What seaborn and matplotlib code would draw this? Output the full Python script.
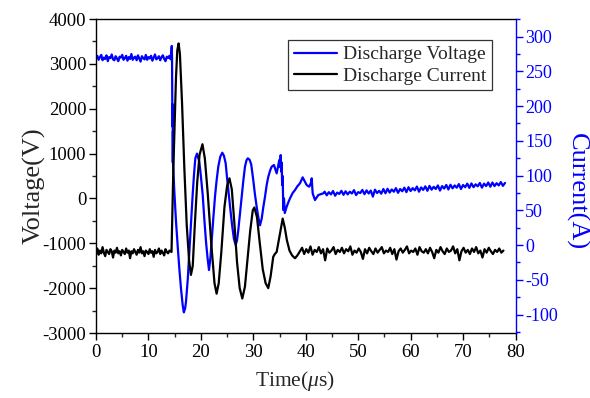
import numpy as np
import pandas as pd
import matplotlib
matplotlib.use("Agg")
import matplotlib.pyplot as plt
from matplotlib.ticker import MultipleLocator
import seaborn as sns

# ---------------- data ----------------
# Voltage (V), left axis: pre-trigger noisy plateau, sampled every 0.25 us from t=0
volt_pre = [3120, 3180, 3090, 3150, 3200, 3080, 3140, 3110, 3190, 3060, 3150, 3130, 3210, 3100,
            3080, 3170, 3120, 3060, 3160, 3140, 3200, 3090, 3130, 3180, 3070, 3150, 3110, 3220,
            3090, 3140, 3160, 3080, 3190, 3120, 3050, 3170, 3130, 3100, 3200, 3090, 3150, 3120,
            3180, 3070, 3140, 3210, 3100, 3130, 3170, 3080, 3150, 3190, 3110, 3060, 3160, 3130,
            3180, 3100]
# Voltage oscillation (time in us, value in V)
volt_osc_t = [14.45, 14.5, 14.55, 14.6, 14.62, 14.65, 14.68, 14.7, 14.94, 15.26, 15.6, 15.89,
              16.2, 16.53, 16.75, 17.0, 17.16, 17.5, 17.8, 18.1, 18.43, 18.7, 18.94, 19.26,
              19.7, 20.0, 20.35, 20.65, 20.98, 21.25, 21.55, 21.8, 22.06, 22.4, 22.69, 23.0,
              23.32, 23.7, 24.09, 24.4, 24.73, 25.0, 25.36, 25.7, 25.99, 26.3, 26.64, 26.9,
              27.14, 27.45, 27.78, 28.1, 28.41, 28.7, 28.95, 29.3, 29.6, 30.0, 30.3, 30.64,
              30.95, 31.27, 31.6, 31.9, 32.23, 32.55, 32.86, 33.2, 33.5, 33.94, 34.2, 34.45,
              34.7, 34.95, 35.1, 35.22, 35.3, 35.41, 35.5, 35.6, 35.72, 35.85, 36.0, 36.36,
              36.7, 36.99, 37.5, 37.95, 38.4, 38.9, 39.41, 39.8, 40.17, 40.67, 41.0, 41.13,
              41.32, 41.76, 42.39, 43.35]
volt_osc_v = [3400, 3150, 2050, 1600, 2100, 800, 1500, 745, 150, -519, -1100, -1559,
              -2000, -2376, -2540, -2450, -2303, -1800, -1188, -550, 76, 550, 894, 1000,
              818, 500, 76, -450, -965, -1300, -1596, -1350, -927, -400, 38, 400,
              707, 930, 1019, 950, 782, 450, 38, -330, -631, -900, -1039, -930,
              -704, -350, 38, 400, 707, 850, 894, 860, 760, 400, 100, -185,
              -420, -600, -450, -200, 38, 300, 484, 620, 707, 745, 650, 559,
              700, 856, 700, 967, 600, 800, 300, 500, -259, 0, -325, -185,
              -80, 0, 120, 187, 270, 337, 470, 380, 299, 261, 350, 448,
              114, -36, 76, 114]
# Voltage tail, sampled every 0.4 us from t=43.6
volt_post = [150, 70, 140, 90, 165, 60, 130, 100, 170, 80,
             160, 90, 150, 110, 185, 75, 140, 120, 190, 95,
             180, 110, 175, 40, 195, 120, 170, 105, 210, 115,
             215, 130, 200, 150, 230, 125, 210, 160, 240, 140,
             250, 165, 230, 180, 265, 150, 245, 190, 270, 170,
             280, 195, 260, 210, 290, 175, 275, 220, 300, 200,
             305, 225, 290, 240, 320, 210, 300, 250, 330, 235,
             335, 250, 315, 270, 345, 240, 330, 275, 355, 260,
             355, 275, 340, 290, 365, 280, 345]

# Current (A), right axis: pre-trigger baseline sampled every 0.25 us from t=0
curr_pre = [-10, -5, -14, -8, -12, -3, -11, -16, -7, -10, -13, -6, -9, -18, -8, -11, -4, -12,
            -9, -15, -7, -10, -13, -5, -11, -8, -19, -9, -12, -6, -10, -14, -7, -11, -3, -12,
            -9, -16, -8, -10, -13, -6, -11, -9, -17, -7, -12, -10, -5, -13, -8, -11, -15, -6,
            -10, -12, -8]
curr_osc_t = [14.4, 14.55, 14.75, 14.95, 15.25, 15.5, 15.75, 16.0, 16.4, 16.85, 17.3, 17.75,
              18.1, 18.45, 18.85, 19.3, 19.75, 20.3, 20.75, 21.3, 21.65, 22.0, 22.6, 23.0,
              23.4, 23.9, 24.5, 25.0, 25.45, 25.9, 26.4, 26.9, 27.4, 27.9, 28.4, 28.9,
              29.4, 29.9, 30.2, 30.7, 31.2, 31.8, 32.35, 32.85, 33.3, 33.8, 34.1, 34.45,
              34.8, 35.1, 35.6, 36.0, 36.4, 36.9, 37.4, 37.95, 38.4]
curr_osc_v = [-10, 40, 110, 160, 240, 280, 290, 275, 206, 110, 29, -22,
              -43, -30, 30, 90, 130, 145, 125, 75, 38, 0, -55, -70,
              -55, -10, 55, 85, 96, 80, 30, -25, -62, -77, -60, -20,
              20, 50, 54, 40, 5, -35, -55, -62, -45, -17, -13, -10,
              5, 17, 38, 25, 7, -8, -15, -19, -15]
# Current tail, sampled every 0.4 us from t=38.9
curr_post = [-9, -4, -13, -6, -11, -2, -14, -7, -10, -3,
             -12, -6, -22, -5, -11, -8, -3, -13, -7, -10,
             -4, -12, -6, -9, -2, -14, -8, -11, -5, -10,
             -20, -6, -12, -4, -9, -13, -5, -11, -7, -3,
             -12, -8, -10, -4, -13, -6, -21, -9, -5, -11,
             -7, -2, -12, -8, -10, -5, -14, -3, -9, -11,
             -6, -12, -4, -10, -19, -7, -11, -3, -9, -13,
             -5, -10, -8, -2, -12, -6, -22, -9, -4, -11,
             -7, -13, -5, -10, -3, -12, -8, -18, -6, -11,
             -4, -9, -13, -7, -10, -5, -11, -8]

series_labels = ["Discharge Voltage", "Discharge Current"]

# ---------------- assemble tables ----------------
def sampled(t0, dt, vals):
    return list(t0 + dt * np.arange(len(vals)))

volt_df = pd.DataFrame({
    "t": sampled(0.0, 0.25, volt_pre) + volt_osc_t + sampled(43.6, 0.4, volt_post),
    "v": volt_pre + volt_osc_v + volt_post,
})
curr_df = pd.DataFrame({
    "t": sampled(0.0, 0.25, curr_pre) + curr_osc_t + sampled(38.9, 0.4, curr_post),
    "a": curr_pre + curr_osc_v + curr_post,
})

# ---------------- plotting ----------------
sns.set_style("ticks")
plt.rcParams["font.family"] = ["Liberation Serif", "DejaVu Serif"]
plt.rcParams["mathtext.fontset"] = "custom"
plt.rcParams["mathtext.rm"] = "Liberation Serif"
plt.rcParams["mathtext.it"] = "Liberation Serif:italic"
plt.rcParams["axes.unicode_minus"] = False

BLUE = "#0000FF"
fig = plt.figure(figsize=(5.90, 3.98), dpi=100)
ax = fig.add_axes([96 / 590, 1 - 333 / 398, (515.5 - 96) / 590, (333 - 19) / 398])
ax2 = ax.twinx()

sns.lineplot(data=volt_df, x="t", y="v", ax=ax, color=BLUE, lw=1.6,
             estimator=None, sort=False, label=series_labels[0], legend=False)
sns.lineplot(data=curr_df, x="t", y="a", ax=ax2, color="black", lw=1.6,
             estimator=None, sort=False, label=series_labels[1], legend=False)

ax.set_xlim(0, 80)
ax.set_ylim(-3000, 4000)
ax2.set_ylim(-126.6, 325.2)

ax.xaxis.set_major_locator(MultipleLocator(10))
ax.xaxis.set_minor_locator(MultipleLocator(5))
ax.yaxis.set_major_locator(MultipleLocator(1000))
ax.yaxis.set_minor_locator(MultipleLocator(500))
ax2.yaxis.set_major_locator(MultipleLocator(50))
ax2.yaxis.set_minor_locator(MultipleLocator(25))

ax.tick_params(axis="both", which="major", direction="out", length=5, width=1,
               colors="black", pad=2)
ax.tick_params(axis="y", which="major", labelsize=13.5)
ax.tick_params(axis="x", which="major", labelsize=13.5, pad=3)
ax.tick_params(axis="both", which="minor", direction="out", length=3, width=1)
ax.tick_params(axis="x", top=False, which="both")
ax2.tick_params(axis="y", which="major", direction="out", length=5, width=1,
                labelsize=13, colors=BLUE, pad=2)
ax2.tick_params(axis="y", which="minor", direction="out", length=3, width=1, colors=BLUE)

for s in ["left", "bottom", "top"]:
    ax.spines[s].set_color("black")
    ax.spines[s].set_linewidth(1.0)
ax.spines["right"].set_visible(False)
ax2.spines["right"].set_color(BLUE)
ax2.spines["right"].set_linewidth(1.0)
for s in ["left", "bottom", "top"]:
    ax2.spines[s].set_visible(False)

ax.set_xlabel(r"Time($\mu$s)", fontsize=15.5)
ax.xaxis.set_label_coords((295 - 96) / 419.5, (333 - 369) / 314)
ax.set_ylabel("Voltage(V)", fontsize=19)
ax.yaxis.set_label_coords((46 - 96) / 419.5, 0.47)
ax2.set_ylabel("Current(A)", fontsize=19, color=BLUE, rotation=270,
               va="bottom", ha="center")
ax2.yaxis.set_label_coords((565 - 96) / 419.5, 0.45)

h1, l1 = ax.get_legend_handles_labels()
h2, l2 = ax2.get_legend_handles_labels()
leg = ax2.legend(h1 + h2, l1 + l2, loc="upper right", bbox_to_anchor=(0.944, 0.933),
                 borderaxespad=0, fontsize=14, frameon=True, fancybox=False,
                 edgecolor="black", handlelength=2.2, handletextpad=0.3,
                 labelspacing=0.18, borderpad=0.3)
leg.get_frame().set_linewidth(0.9)

fig.savefig("out.png", dpi=100)
